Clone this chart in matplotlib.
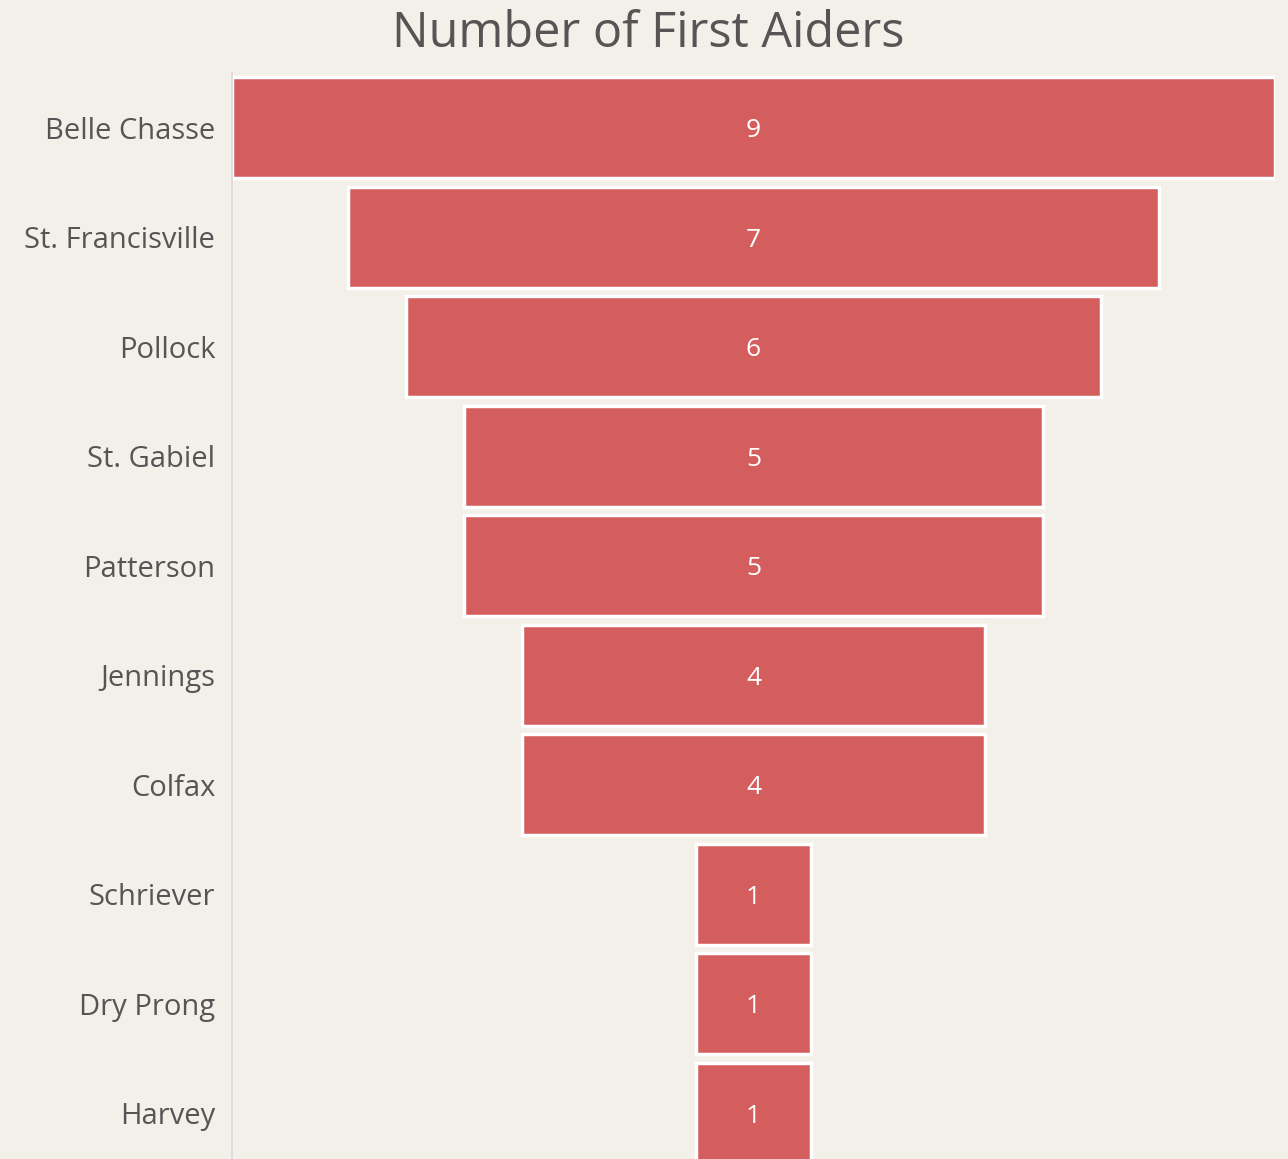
import matplotlib.pyplot as plt

sites = ['Belle Chasse', 'St. Francisville', 'Pollock', 'St. Gabiel', 'Patterson',
         'Jennings', 'Colfax', 'Schriever', 'Dry Prong', 'Harvey']
aiders = [9, 7, 6, 5, 5, 4, 4, 1, 1, 1]

bg = '#f3f0e9'
red = '#d45e5e'
txt = '#555555'

plt.rcParams['font.family'] = ['Open Sans', 'DejaVu Sans']

fig = plt.figure(figsize=(12.88, 11.59), dpi=100, facecolor=bg)
ax = fig.add_axes([232 / 1288, -9 / 1159, 1043 / 1288, 1095 / 1159])
ax.set_facecolor(bg)

top = max(aiders)
y = list(range(len(sites)))
lefts = [(top - v) / 2 for v in aiders]
ax.barh(y, aiders, left=lefts, height=0.92, color=red, edgecolor='white', linewidth=2.5)

for i, v in enumerate(aiders):
    ax.text(top / 2, i, str(v), color='white', ha='center', va='center_baseline', fontsize=19)

ax.set_xlim(0, top)
ax.set_ylim(len(sites) - 0.5, -0.5)
ax.set_yticks(y)
ax.set_yticklabels(sites, fontsize=21, color=txt, va='center_baseline')
ax.tick_params(axis='y', length=0, pad=12)
ax.set_xticks([])
for s in ['top', 'right', 'bottom']:
    ax.spines[s].set_visible(False)
ax.spines['left'].set_color('#d9d9d9')
ax.spines['left'].set_linewidth(1.2)

fig.text(648 / 1288, 1 - 34 / 1159, 'Number of First Aiders', ha='center', va='center',
         fontsize=35, color=txt)

fig.savefig('out.png', dpi=100, facecolor=bg)
